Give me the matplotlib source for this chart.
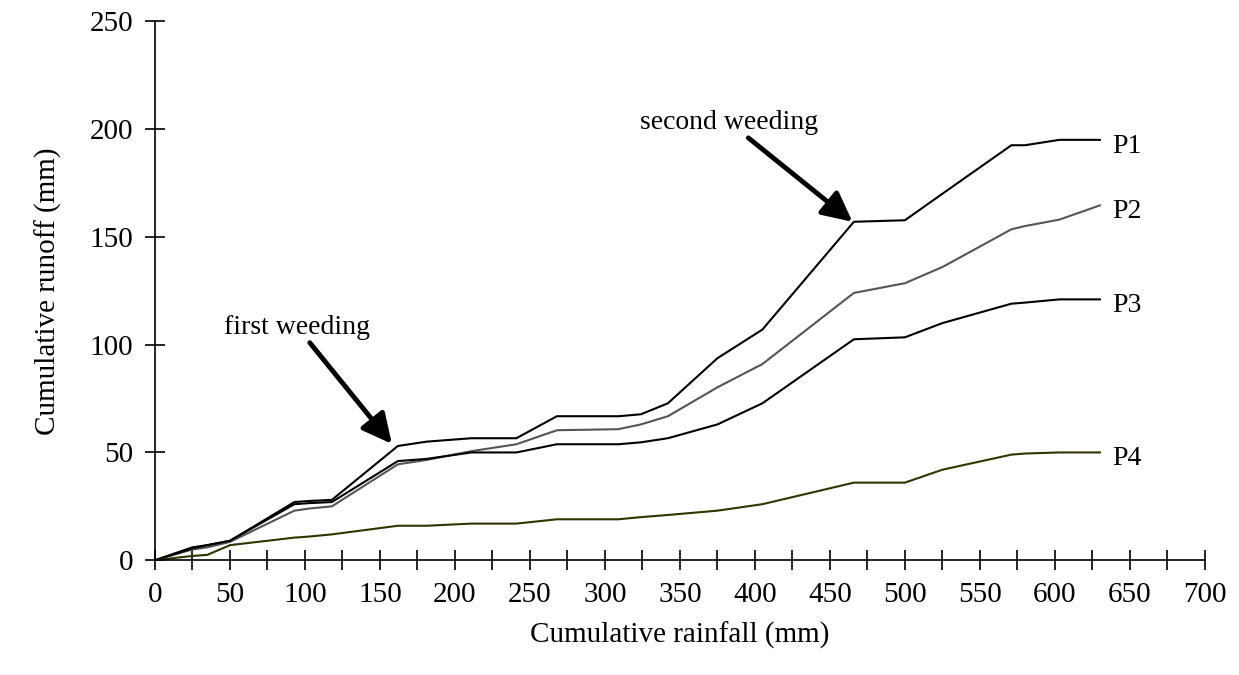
import numpy as np
import matplotlib.pyplot as plt

# cumulative rainfall (mm) at each event
rain = [0, 25, 35, 50, 93, 103, 118, 162, 181, 211, 241, 268, 309, 324,
        342, 375, 405, 466, 500, 525, 571, 580, 603, 630]

# cumulative runoff (mm) per plot
p1 = [0, 6, 7, 9, 27, 27.5, 28, 53, 55, 56.6, 56.6, 66.8, 66.8, 67.7,
      72.8, 93.7, 107, 157, 157.7, 170, 192.5, 192.5, 195, 195]
p2 = [0, 5, 6, 8.5, 23, 24, 25, 44.5, 46.5, 50.6, 53.8, 60.3, 60.8, 63,
      66.8, 80.2, 91, 124, 128.5, 136, 153.5, 155, 158, 164.6]
p3 = [0, 5.5, 7, 9, 26, 26.5, 27, 46, 47, 50, 50, 53.8, 53.8, 54.7,
      56.6, 63, 72.8, 102.5, 103.4, 110, 119, 119.5, 121, 121]
p4 = [0, 2, 2.5, 7, 10.5, 11, 12, 16, 16, 17, 17, 19, 19, 20,
      21, 23, 26, 36, 36, 42, 49, 49.5, 50, 50]

names = ['P1', 'P2', 'P3', 'P4']
colors = ['black', '#555555', 'black', '#333300']

plt.rcParams['font.family'] = ['Liberation Serif', 'DejaVu Serif']

fig = plt.figure(figsize=(12.39, 6.75), dpi=100)
ax = fig.add_axes([0.125, 0.17, 0.8475, 0.7985])

for series, name, col in zip([p1, p2, p3, p4], names, colors):
    ax.plot(rain, series, color=col, lw=1.5)
    ax.text(rain[-1] + 8, series[-1] - 3, name, fontsize=20, va='center', ha='left')

arrow = dict(arrowstyle='-|>,head_width=0.45,head_length=0.9',
             color='black', lw=3.5, shrinkA=0, shrinkB=0)
ax.annotate('first weeding', xy=(158, 54), xytext=(95, 108),
            fontsize=20, ha='center', va='center', arrowprops=arrow)
ax.annotate('second weeding', xy=(465, 157), xytext=(383, 203),
            fontsize=20, ha='center', va='center', arrowprops=arrow)

ax.set_xlim(0, 700)
ax.set_ylim(0, 250)
ax.set_xticks(np.arange(0, 701, 50))
ax.set_xticks(np.arange(0, 701, 25), minor=True)
ax.set_yticks(np.arange(0, 251, 50))
ax.tick_params(axis='both', which='major', direction='inout', length=15, width=1.2,
               labelsize=21, pad=8)
ax.tick_params(axis='x', which='minor', direction='inout', length=15, width=1.2)
ax.spines['right'].set_visible(False)
ax.spines['top'].set_visible(False)
ax.spines['left'].set_linewidth(1.2)
ax.spines['bottom'].set_linewidth(1.2)
ax.set_xlabel('Cumulative rainfall (mm)', fontsize=21, labelpad=10)
ax.set_ylabel('Cumulative runoff (mm)', fontsize=21, labelpad=20)

fig.savefig('out.png', dpi=100)
